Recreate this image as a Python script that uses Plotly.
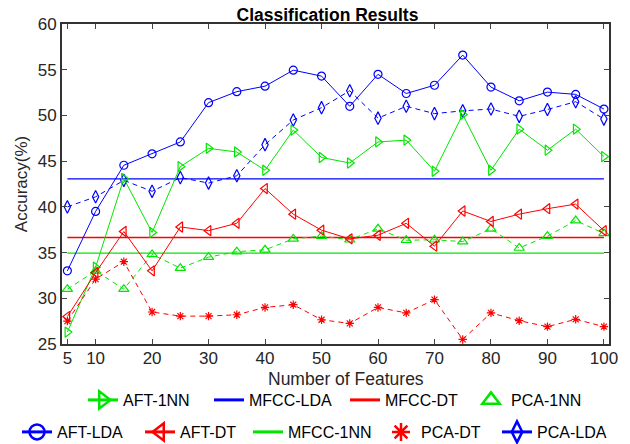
import plotly.graph_objects as go

features = [5, 10, 15, 20, 25, 30, 35, 40, 45, 50, 55, 60, 65, 70, 75, 80, 85, 90, 95, 100]

aft_lda = [33.0, 39.5, 44.55, 45.8, 47.1, 51.4, 52.6, 53.2, 54.95, 54.3,
           51.0, 54.5, 52.4, 53.3, 56.6, 53.1, 51.6, 52.55, 52.3, 50.7]
pca_lda = [40.0, 41.1, 42.9, 41.7, 43.2, 42.6, 43.4, 46.8, 49.5, 50.85,
           52.7, 49.7, 51.0, 50.2, 50.5, 50.7, 49.9, 50.65, 51.5, 49.6]
aft_1nn = [26.3, 33.4, 43.1, 37.2, 44.4, 46.4, 46.0, 44.0, 48.4, 45.4,
           44.8, 47.1, 47.3, 43.9, 50.1, 44.0, 48.5, 46.2, 48.5, 45.5]
aft_dt = [28.0, 32.8, 37.3, 33.0, 37.8, 37.4, 38.2, 42.0, 39.2, 37.45,
          36.5, 36.9, 38.2, 35.7, 39.55, 38.4, 39.2, 39.8, 40.3, 37.4]
pca_1nn = [31.0, 33.0, 31.0, 34.8, 33.3, 34.5, 35.1, 35.3, 36.5, 36.8,
           36.4, 37.6, 36.35, 36.4, 36.2, 37.6, 35.5, 36.8, 38.5, 37.1]
pca_dt = [27.5, 32.1, 34.0, 28.5, 28.05, 28.05, 28.2, 29.0, 29.3, 27.65,
          27.25, 29.0, 28.4, 29.85, 25.5, 28.4, 27.55, 26.9, 27.7, 26.9]

mfcc_lda = 43.05
mfcc_dt = 36.65
mfcc_1nn = 34.95

x_ticks = [5, 10, 20, 30, 40, 50, 60, 70, 80, 90, 100]
y_ticks = [25, 30, 35, 40, 45, 50, 55, 60]

BLUE = "#0000ff"
GREEN = "#00e600"
RED = "#ff0000"
DASH = "5px,4px"
FONT = "Arial, Liberation Sans, sans-serif"

# plot-area geometry (pixels) used to place legend / labels
L, R, T, B = 62, 21, 24, 100
W, H = 630, 444
PW = W - L - R
PH = H - T - B


def px_x(p):
    return (p - L) / PW


def px_y(p):
    return (H - B - p) / PH


fig = go.Figure()

# baselines (horizontal lines)
xs_line = [features[0], features[-1]]
for val, col in ((mfcc_lda, BLUE), (mfcc_dt, RED), (mfcc_1nn, GREEN)):
    fig.add_trace(go.Scatter(x=xs_line, y=[val, val], mode="lines",
                             line=dict(color=col, width=1.3), showlegend=False))

series = [
    ("AFT-LDA", aft_lda, BLUE, "circle-open", 8, "solid"),
    ("PCA-LDA", pca_lda, BLUE, "diamond-tall-open", 9, DASH),
    ("AFT-1NN", aft_1nn, GREEN, "triangle-right-open", 9, "solid"),
    ("PCA-1NN", pca_1nn, GREEN, "triangle-up-open", 9, DASH),
    ("AFT-DT", aft_dt, RED, "triangle-left-open", 9, "solid"),
    ("PCA-DT", pca_dt, RED, "asterisk-open", 7, DASH),
]
for name, ys, col, sym, sz, dash in series:
    fig.add_trace(go.Scatter(
        x=features, y=ys, mode="lines+markers", name=name,
        line=dict(color=col, width=1, dash=dash),
        marker=dict(symbol=sym, size=sz, color=col, line=dict(color=col, width=1.2)),
        showlegend=False))

# legend entries: (name, colour, symbol, mode, text-start px, row-centre px)
legend_items = [
    ("AFT-1NN", GREEN, "triangle-right-open", "lines+markers", 128, 400),
    ("MFCC-LDA", BLUE, None, "lines", 254, 400),
    ("MFCC-DT", RED, None, "lines", 390, 400),
    ("PCA-1NN", GREEN, "triangle-up-open", "markers", 516, 400),
    ("AFT-LDA", BLUE, "circle-open", "lines+markers", 62, 432),
    ("AFT-DT", RED, "triangle-left-open", "lines+markers", 185, 432),
    ("MFCC-1NN", GREEN, None, "lines", 293, 432),
    ("PCA-DT", RED, "asterisk-open", "markers", 426, 432),
    ("PCA-LDA", BLUE, "diamond-tall-open", "lines+markers", 542, 432),
]
legend_layouts = {}
for i, (name, col, sym, mode, tx, ty) in enumerate(legend_items):
    lg = "legend" if i == 0 else f"legend{i + 1}"
    kw = dict(x=[None], y=[None], mode=mode, name=name, legend=lg,
              line=dict(color=col, width=3))
    if sym:
        kw["marker"] = dict(symbol=sym, size=15, color=col,
                            line=dict(color=col, width=2.5))
    fig.add_trace(go.Scatter(**kw))
    legend_layouts[lg] = dict(
        orientation="h", x=px_x(tx - 45), xanchor="left",
        y=px_y(ty), yanchor="middle",
        font=dict(family=FONT, size=16, color="#000000"),
        bgcolor="rgba(0,0,0,0)", itemsizing="trace")

axis_common = dict(
    showline=True, linecolor="#333333", linewidth=2, mirror="ticks",
    ticks="inside", ticklen=5, tickwidth=1, tickcolor="#444444",
    showgrid=False, zeroline=False, automargin=False,
    tickfont=dict(family=FONT, size=17, color="#262626"),
)

fig.update_layout(
    width=W, height=H,
    margin=dict(l=L, r=R, t=T, b=B, autoexpand=False),
    plot_bgcolor="white", paper_bgcolor="white",
    font=dict(family=FONT, color="#262626"),
    title=dict(text="<b>Classification Results</b>", x=px_x(327.5), xref="paper",
               xanchor="center", y=1 - 15 / H, yanchor="middle",
               font=dict(family=FONT, size=17.5, color="#000000")),
    xaxis=dict(range=[4.05, 100.9], tickvals=x_ticks,
               ticktext=[str(v) for v in x_ticks], ticklabelstandoff=-2,
               **axis_common),
    yaxis=dict(range=[25, 60], tickvals=y_ticks,
               ticktext=[str(v) for v in y_ticks],
               title=dict(text="Accuracy(%)", standoff=6,
                          font=dict(family=FONT, size=17, color="#262626")),
               **axis_common),
    annotations=[dict(text="Number of Features", xref="paper", yref="paper",
                      x=px_x(346), y=px_y(379), xanchor="center", yanchor="middle",
                      showarrow=False,
                      font=dict(family=FONT, size=17.5, color="#262626"))],
    **legend_layouts,
)

fig.write_html("out.html", config={"displayModeBar": False},
               post_script="document.body.style.margin='0';document.body.style.padding='0';")
